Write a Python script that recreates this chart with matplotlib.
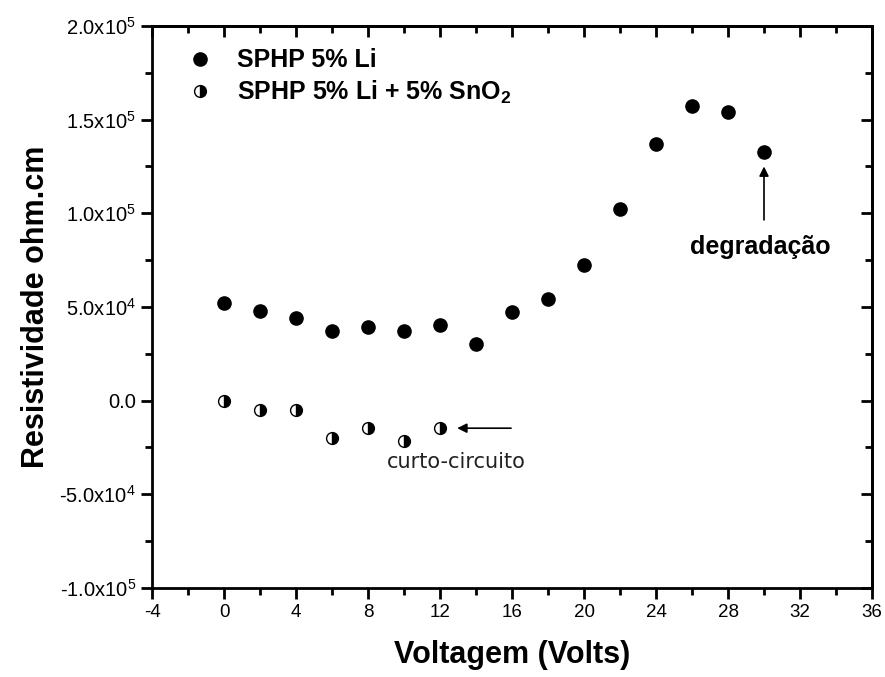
"""
Resistividade vs voltagem: SPHP 5% Li, with and without 5% SnO2.
Output: out.png
"""
import matplotlib
matplotlib.use("Agg")
import matplotlib.pyplot as plt
import matplotlib.ticker as mticker
from matplotlib.lines import Line2D

plt.rcParams.update({
    "font.family":        "Liberation Sans",
    "mathtext.fontset":   "custom",
    "mathtext.rm":        "Liberation Sans",
    "mathtext.bf":        "Liberation Sans:bold",
    "axes.linewidth":     2.0,
    "axes.unicode_minus": False,
})

# Data
volt_li   = [0, 2, 4, 6, 8, 10, 12, 14, 16, 18, 20, 22, 24, 26, 28, 30]
res_li    = [52000, 47900, 44100, 37200, 39300, 37200, 40400, 30300,
             47300, 54300, 72400, 102300, 137000, 157300, 154100, 132800]

volt_sno2 = [0, 2, 4, 6, 8, 10, 12]
res_sno2  = [0, -5000, -5000, -20100, -14700, -21500, -14700]

LABEL_LI   = "SPHP 5% Li"
LABEL_SNO2 = r"SPHP 5% Li + 5% SnO$_\mathbf{2}$"


def sci_fmt(v, pos):
    if v == 0:
        return "0.0"
    exp = int(f"{v:e}".split("e")[1])
    mant = v / 10 ** exp
    return rf"{mant:.1f}x10$^{{{exp}}}$"


fig = plt.figure(figsize=(8.85, 6.77), dpi=100)
ax = fig.add_axes([0.1718, 0.1315, 0.8135, 0.8301])

half = dict(marker="o", linestyle="none", markersize=8.5,
            fillstyle="right", markerfacecolor="black",
            markerfacecoloralt="white", markeredgecolor="black",
            markeredgewidth=1.0)

ax.plot(volt_li, res_li, "o", color="black", markersize=9.5, linestyle="none")
ax.plot(volt_sno2, res_sno2, **half)

ax.set_xlim(-4, 36)
ax.set_ylim(-1.0e5, 2.0e5)
ax.xaxis.set_major_locator(mticker.MultipleLocator(4))
ax.xaxis.set_minor_locator(mticker.MultipleLocator(2))
ax.yaxis.set_major_locator(mticker.MultipleLocator(5e4))
ax.yaxis.set_minor_locator(mticker.MultipleLocator(2.5e4))
ax.yaxis.set_major_formatter(mticker.FuncFormatter(sci_fmt))

ax.tick_params(which="both", direction="out", width=2)
ax.tick_params(axis="x", labelsize=13.5)
ax.tick_params(axis="y", labelsize=14.5)
ax.tick_params(which="major", length=8)
ax.tick_params(which="minor", length=5)

# top/right ticks point inward
top = ax.secondary_xaxis("top")
top.xaxis.set_major_locator(mticker.MultipleLocator(4))
top.xaxis.set_minor_locator(mticker.MultipleLocator(2))
top.tick_params(which="both", direction="in", width=2, labeltop=False)
top.tick_params(which="major", length=8)
top.tick_params(which="minor", length=5)
right = ax.secondary_yaxis("right")
right.yaxis.set_major_locator(mticker.MultipleLocator(5e4))
right.yaxis.set_minor_locator(mticker.MultipleLocator(2.5e4))
right.tick_params(which="both", direction="in", width=2, labelright=False)
right.tick_params(which="major", length=8)
right.tick_params(which="minor", length=5)

ax.set_xlabel("Voltagem (Volts)", fontsize=22, fontweight="bold", labelpad=14)
ax.set_ylabel("Resistividade ohm.cm", fontsize=22, fontweight="bold", labelpad=6)

handles = [
    Line2D([], [], marker="o", color="black", linestyle="none", markersize=9.5),
    Line2D([], [], **half),
]
ax.legend(handles, [LABEL_LI, LABEL_SNO2], loc="upper left", frameon=False,
          prop={"size": 18, "weight": "bold"}, handletextpad=0.5,
          labelspacing=0.25, borderaxespad=0.5, bbox_to_anchor=(0.0, 1.0))

ax.annotate("", xy=(12.8, -14700), xytext=(16.1, -14700),
            arrowprops=dict(arrowstyle="-|>", color="black", lw=1.2,
                            mutation_scale=14))
ax.text(12.9, -33000, "curto-circuito", fontsize=15, family="DejaVu Sans",
        ha="center", va="center", color="#222222")

ax.annotate("", xy=(30, 126500), xytext=(30, 95000),
            arrowprops=dict(arrowstyle="-|>", color="black", lw=1.2,
                            mutation_scale=14))
ax.text(29.8, 82000, "degradação", fontsize=18, fontweight="bold",
        ha="center", va="center")

fig.savefig("out.png", dpi=100)
plt.close(fig)
